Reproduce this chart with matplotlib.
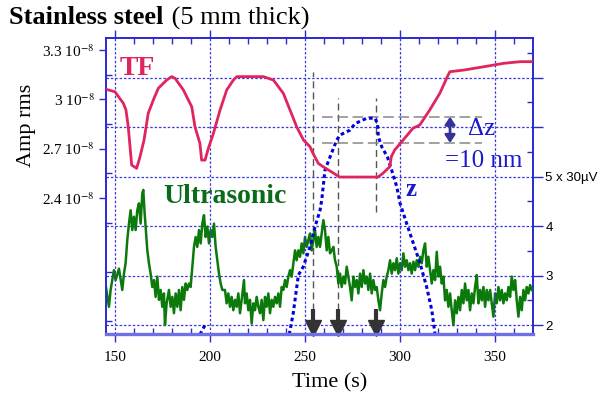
import matplotlib
matplotlib.use("Agg")
import matplotlib.pyplot as plt
import numpy as np

plt.rcParams['font.family'] = ['Liberation Serif', 'DejaVu Serif']
plt.rcParams['mathtext.fontset'] = 'stix'

# ---------------- data ----------------
tf_t = [145.3, 150, 154.4, 155.8, 157, 158.8, 161.4, 163.2, 165.3, 167.5, 170.2, 172.8, 177.2, 179.8,
        181.6, 186, 188.6, 190.4, 192.1, 194.7, 195.6, 197.4, 199.1, 201.8, 205.3, 208.8, 212.3, 214.1,
        228.1, 233.4, 238.6, 242.1, 245.6, 249.2, 252.6, 254.2, 257, 259.5, 264.7, 268.2, 288.4, 291,
        294.6, 295.4, 297.2, 301.6, 306.8, 310.4, 315.6, 320.9, 325.3, 326.2, 333.5, 344, 354.5, 363.3, 369.8]
tf_v = [3.061, 3.046, 2.976, 2.935, 2.833, 2.60, 2.58, 2.651, 2.752, 2.915, 2.996, 3.067, 3.117, 3.138,
        3.128, 3.057, 2.996, 2.955, 2.833, 2.732, 2.63, 2.63, 2.70, 2.793, 2.935, 3.057, 3.117, 3.138,
        3.138, 3.117, 3.036, 2.935, 2.833, 2.752, 2.712, 2.671, 2.61, 2.59, 2.553, 2.527, 2.527, 2.55,
        2.59, 2.651, 2.692, 2.752, 2.824, 2.844, 2.935, 3.036, 3.148, 3.168, 3.178, 3.198, 3.219, 3.229, 3.229]

us_t = [145.09, 146.84, 147.72, 149.47, 150.35, 152.11, 153.86, 154.74, 155.61, 156.49, 157.37, 158.25,
        159.12, 160.0, 160.88, 161.75, 162.63, 163.51, 164.39, 164.91, 165.61, 166.14, 167.02, 167.89,
        168.77, 169.65, 170.53, 171.4, 172.28, 173.16, 174.04, 174.91, 175.79, 176.32, 177.19, 178.42,
        179.3, 180.18, 181.05, 181.93, 182.81, 183.68, 184.56, 185.44, 186.32, 187.19, 188.07, 188.95,
        189.82, 190.7, 191.58, 192.46, 193.33, 194.21, 195.09, 195.96, 196.84, 197.72, 198.6, 199.47,
        200.35, 201.23, 202.11, 202.98, 203.86, 204.74, 205.61, 206.49,
        207.89, 208.77, 209.65, 210.53, 211.4, 212.28, 213.16, 214.04, 214.91, 215.79, 216.67, 217.89,
        218.42, 219.3, 220.18, 221.05, 221.93, 222.81, 223.68, 224.56, 225.44, 226.32, 227.19, 228.07,
        228.95, 229.82, 230.7, 231.58, 232.46, 233.33, 234.21, 235.09, 235.96, 236.84, 237.72, 238.6,
        239.47, 240.35, 241.23, 242.11, 242.98, 243.86, 244.74, 245.61, 246.49, 247.37, 248.25, 249.12,
        250.0, 250.88, 251.75, 252.63, 253.51, 254.39, 255.26, 256.14, 257.02, 257.89, 258.77, 259.65,
        260.53, 261.4, 262.28, 263.16,
        264.04, 264.91, 265.79, 266.67, 267.54, 268.42, 269.30, 270.18, 271.05, 271.93, 272.81, 273.68,
        274.56, 275.44, 276.32, 277.19, 278.07, 278.95, 279.82, 280.70, 281.58, 282.46, 283.33, 284.21,
        285.09, 285.96, 286.84, 287.72, 288.60, 289.47, 290.35, 291.23, 292.11, 292.98, 293.86, 294.74,
        295.61, 296.49, 297.37, 298.25, 299.12, 300.00, 300.88, 301.75, 302.63, 303.51, 304.39, 305.26,
        306.14, 307.02, 307.89, 308.77, 309.65, 310.53, 311.40, 312.28, 313.16, 314.04, 314.91,
        316.67, 317.54, 318.42, 319.30, 320.18, 321.05, 321.93, 322.81, 323.68, 324.56, 325.44, 326.32,
        327.19, 328.07, 328.95, 329.82, 330.70, 331.58, 332.46, 333.33, 334.21, 335.09, 335.96, 336.84,
        337.72, 338.60, 339.47, 340.35, 341.23, 342.11, 342.98, 343.86, 344.74, 345.61, 346.49, 347.37,
        348.25, 349.12, 350.00, 350.88, 351.75, 352.63, 353.51, 354.39, 355.26, 356.14, 357.02, 357.89,
        358.77, 359.65, 360.53, 361.40, 362.28, 363.16, 364.04, 364.91, 365.79, 366.67, 367.54, 368.42, 369.30]
us_v = [2.81, 2.37, 2.71, 3.11, 2.91, 3.14, 2.71, 3.04, 3.25, 3.72, 4.05, 4.32,
        3.92, 4.19, 3.92, 4.32, 4.46, 4.05, 4.66, 4.73, 4.26, 3.99, 3.51, 3.25,
        3.04, 2.77, 2.91, 2.57, 2.98, 2.51, 2.71, 2.37, 2.64, 2.00, 2.44, 2.71,
        2.37, 2.57, 2.24, 2.64, 2.37, 2.71, 2.30, 2.77, 2.51, 2.84, 2.71, 2.84,
        2.77, 3.18, 3.58, 3.78, 3.58, 3.92, 3.65, 4.05, 4.22, 3.78, 3.99, 3.65,
        3.92, 3.78, 4.05, 3.58, 3.31, 3.04, 2.84, 2.71,
        2.71, 2.44, 2.64, 2.37, 2.57, 2.30, 2.51, 2.37, 2.64, 2.24, 2.51, 2.91,
        2.44, 2.64, 2.30, 2.51, 2.03, 2.44, 2.30, 2.57, 2.37, 2.24, 2.51, 2.10,
        2.57, 2.37, 2.64, 2.24, 2.51, 2.37, 2.57, 2.44, 2.64, 2.37, 2.77, 2.71,
        2.91, 2.77, 2.98, 3.11, 2.98, 3.25, 3.51, 3.31, 3.51, 3.38, 3.65, 3.45,
        3.78, 3.58, 3.72, 3.85, 3.51, 3.72, 3.92, 3.58, 3.78, 3.58, 3.85, 4.12,
        3.92, 3.51, 3.78, 3.45,
        3.51, 3.58, 3.31, 3.18, 2.84, 3.04, 2.77, 2.98, 2.84, 3.18, 2.98, 2.77,
        2.50, 2.98, 2.77, 2.91, 2.64, 3.04, 2.77, 3.11, 2.84, 2.98, 2.71, 3.04,
        2.64, 2.91, 2.71, 2.77, 2.50, 2.30, 2.64, 2.91, 2.77, 2.98, 3.11, 3.31,
        3.04, 3.25, 3.11, 3.35, 3.04, 3.25, 3.11, 3.45, 3.18, 3.31, 3.11, 3.25,
        3.04, 3.28, 3.11, 3.31, 3.18, 3.38, 3.25, 3.51, 3.65, 3.18, 3.38,
        2.84, 3.11, 2.91, 3.48, 2.98, 3.18, 2.84, 2.98, 2.50, 2.71, 2.37, 2.64,
        2.30, 2.00, 2.50, 2.24, 2.57, 2.30, 2.71, 2.44, 2.84, 2.50, 2.71, 2.30,
        2.64, 2.44, 2.77, 3.01, 2.44, 2.71, 2.50, 2.77, 2.37, 2.71, 2.50, 2.71,
        2.44, 2.17, 2.64, 2.44, 2.77, 2.50, 2.71, 2.44, 2.64, 2.50, 2.77, 2.57,
        2.98, 2.71, 2.91, 2.50, 2.17, 2.57, 2.30, 2.71, 2.50, 2.77, 2.64, 2.81, 2.71]

z_t = [241.7, 243.8, 246.5, 249.1, 252.6, 255.3, 257.9, 258.8, 260.5, 263.2, 266.7, 268.4, 273.7, 276.3,
       282.5, 286.8, 288.1, 288.6, 290.4, 293.3, 295.6, 298.3, 300.0, 303.5, 307.0, 310.5, 314.0, 316.7, 318.4]
z_v = [1.81, 2.24, 3.01, 3.18, 3.58, 3.99, 4.32, 4.53, 5.13, 5.40, 5.74, 5.84, 5.94, 6.07,
       6.18, 6.18, 6.07, 5.80, 5.60, 5.40, 5.13, 4.79, 4.46, 4.05, 3.65, 3.25, 2.77, 2.30, 1.81]
z2_t = [194.7, 197.4]
z2_v = [1.81, 2.0]

marker_t = [254.4, 267.2, 287.6]          # arrows / vertical dashed lines
vline_top = [7.11, 6.59, 6.59]
vline_bot = [2.30, 2.30, 4.28]
dz_levels = [6.21, 5.68]                  # horizontal dashed lines (delta z)
dz_t = [258.8, 343.2]

x_ticks = [150, 200, 250, 300, 350]
left_ticks = [2.4, 2.7, 3.0, 3.3]
left_labels = ["2.4 10$^{-8}$", "2.7 10$^{-8}$", "3 10$^{-8}$", "3.3 10$^{-8}$"]
right_ticks = [2, 3, 4, 5, 6, 7]
right_labels = ["2", "3", "4", "5 x 30\u00b5V", "", ""]

# ---------------- figure ----------------
fig = plt.figure(figsize=(6.01, 3.98), dpi=100)
ax = fig.add_axes([0.1764, 0.1608, 0.71, 0.7437])
ax2 = ax.twinx()
ax.set_zorder(ax2.get_zorder() + 1)
ax.patch.set_visible(False)

blue = '#2a2ad0'
grid_kw = dict(color='#3a3ae0', lw=0.9, ls=(0, (2, 1.5)))

ax.set_xlim(145.3, 369.8)
ax.set_ylim(1.572, 3.373)
ax2.set_ylim(1.82, 7.8)

# grids
ax.set_xticks(x_ticks)
ax.set_xticks(np.arange(150, 370, 10), minor=True)
ax.grid(axis='x', which='major', **grid_kw)
ax2.set_yticks(right_ticks)
ax2.set_yticklabels(right_labels)
ax2.set_yticks([2.5, 3.5, 4.5, 5.5, 6.5, 7.5], minor=True)
ax2.grid(axis='y', which='major', **grid_kw)

# curves
ax2.plot(us_t, us_v, color='#0b7a0b', lw=1.8, zorder=3)
ax2.plot(z_t, z_v, color='#0000dd', lw=2.2, ls=(0, (1.2, 1.0)), zorder=4)
ax2.plot(z2_t, z2_v, color='#0000dd', lw=2.2, ls=(0, (1.2, 1.0)), zorder=4)
ax.plot(tf_t, tf_v, color='#e0245e', lw=2, zorder=3)

# dashed guides
for t, top, bot in zip(marker_t, vline_top, vline_bot):
    ax2.plot([t, t], [bot, top], color='#555555', lw=1, ls=(0, (5, 3)), zorder=2)
for lv in dz_levels:
    ax2.plot(dz_t, [lv, lv], color='#888888', lw=1.1, ls=(0, (7, 3)), zorder=2)

# arrows at bottom
for t in marker_t:
    ax2.plot([t, t], [2.32, 2.0], color='#333333', lw=3, solid_capstyle='butt', zorder=5)
    ax2.plot([t], [1.94], marker='v', ms=11, color='#333333', zorder=5, clip_on=False)

# delta z arrow
ax2.annotate('', xy=(326.3, dz_levels[0]), xytext=(326.3, dz_levels[1]),
             arrowprops=dict(arrowstyle='<|-|>,head_width=0.3,head_length=0.45',
                             color='#333399', lw=2, shrinkA=0, shrinkB=0), zorder=6)

# texts
ax2.text(161.8, 7.19, 'TF', color='#e0245e', fontsize=20, fontweight='bold', ha='center', va='center')
ax2.text(175.3, 4.59, 'Ultrasonic', color='#0b6b1b', fontsize=20, fontweight='bold', ha='left', va='center')
ax2.text(305.8, 4.73, 'z', color='#1a1acc', fontsize=18, fontweight='bold', ha='center', va='center')
ax2.text(335.8, 5.96, '\u0394z', color='#1a1acc', fontsize=18, ha='left', va='center')
ax2.text(323.7, 5.31, '=10 nm', color='#1a1acc', fontsize=18, ha='left', va='center')

# left axis ticks
ax.set_yticks(left_ticks)
ax.set_yticklabels(left_labels)
ax.set_yticks([1.65, 1.95, 2.25, 2.55, 2.85, 3.15], minor=True)
ax.tick_params(axis='y', which='major', direction='out', length=5, width=1, color=blue,
               labelsize=11, pad=3)
ax.tick_params(axis='y', which='minor', direction='in', length=4, width=1, color=blue)
ax.tick_params(axis='x', which='major', direction='out', length=6, width=1, color=blue,
               labelsize=11, top=True, pad=6)
ax.tick_params(axis='x', which='minor', direction='in', length=4, width=1, color=blue, top=True)
ax.tick_params(axis='y', right=False, which='both')

ax2.tick_params(axis='y', which='major', direction='out', length=7, width=1, color=blue, pad=2)
ax2.tick_params(axis='y', which='minor', direction='in', length=4, width=1, color=blue)
for lab in ax2.get_yticklabels():
    lab.set_fontfamily(['Liberation Sans', 'DejaVu Sans'])
    lab.set_fontsize(9.5)

# spines
for s in ['left', 'top']:
    ax.spines[s].set_color(blue)
    ax.spines[s].set_linewidth(1.4)
ax.spines['bottom'].set_color('#6f6fe6')
ax.spines['bottom'].set_linewidth(2.4)
ax.spines['right'].set_visible(False)
for s in ['left', 'top', 'bottom']:
    ax2.spines[s].set_visible(False)
ax2.spines['right'].set_color(blue)
ax2.spines['right'].set_linewidth(1.4)

# titles / labels
fig.text(9 / 601, 1 - 18 / 398, 'Stainless steel', fontsize=19, fontweight='bold', ha='left', va='center')
fig.text(165 / 601, 1 - 18 / 398, ' (5 mm thick)', fontsize=19, ha='left', va='center')
fig.text(27 / 601, 1 - 125 / 398, 'Amp rms', fontsize=16, rotation=90, ha='center', va='center')
fig.text(330 / 601, 1 - 383 / 398, 'Time (s)', fontsize=16, ha='center', va='center')

fig.savefig('out.png', dpi=100)
